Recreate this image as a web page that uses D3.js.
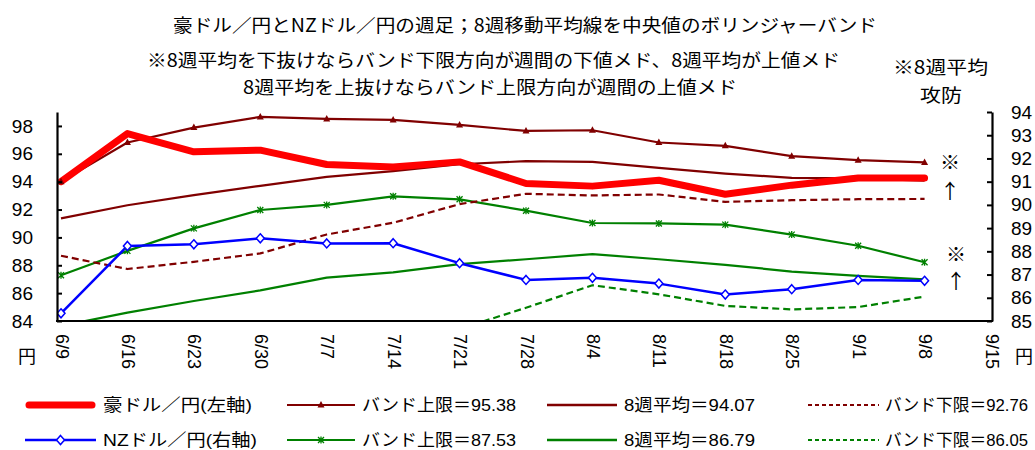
<!DOCTYPE html>
<html><head><meta charset="utf-8">
<script src="https://cdn.jsdelivr.net/npm/d3@7/dist/d3.min.js"></script>
<style>
body{margin:0;background:#fff;}
svg{display:block;}
.jp{font-family:"Noto Sans CJK JP","Noto Sans",sans-serif;}
.num{font-family:"Liberation Sans","Arial","Noto Sans CJK JP",sans-serif;}
</style></head>
<body>
<svg id="c" width="1035" height="450"></svg>
<script>
const categories = ["6/9","6/16","6/23","6/30","7/7","7/14","7/21","7/28","8/4","8/11","8/18","8/25","9/1","9/8","9/15"];
const leftTicks = [84,86,88,90,92,94,96,98];
const rightTicks = [85,86,87,88,89,90,91,92,93,94];

// AUD/JPY (left axis)
const audPrice = [94.0,97.45,96.14,96.26,95.23,95.06,95.42,93.87,93.68,94.1,93.1,93.75,94.27,94.27];
const audUpper = [94.0,96.81,97.88,98.65,98.5,98.43,98.07,97.64,97.69,96.81,96.57,95.83,95.54,95.38];
const audMean  = [91.36,92.31,93.03,93.7,94.35,94.75,95.25,95.47,95.42,94.99,94.58,94.27,94.23,94.07];
const audLower = [88.68,87.73,88.25,88.85,90.21,91.05,92.39,93.13,93.01,93.08,92.55,92.67,92.74,92.76];

// NZD/JPY (right axis)
const nzdPrice = [85.33,88.23,88.3,88.56,88.34,88.35,87.49,86.77,86.86,86.61,86.14,86.37,86.77,86.73];
const nzdUpper = [86.97,88.02,88.99,89.78,90.0,90.37,90.24,89.75,89.22,89.2,89.15,88.72,88.24,87.53];
const nzdMean  = [84.79,85.36,85.86,86.32,86.87,87.09,87.45,87.66,87.88,87.66,87.42,87.13,86.94,86.79];
const nzdLower = [82.6,82.7,82.73,82.86,83.74,83.81,84.66,85.57,86.54,86.15,85.65,85.5,85.6,86.05];

const titleLines = [
  "豪ドル／円とNZドル／円の週足；8週移動平均線を中央値のボリンジャーバンド",
  "※8週平均を下抜けならバンド下限方向が週間の下値メド、8週平均が上値メド",
  "8週平均を上抜けならバンド上限方向が週間の上値メド"
];
const legendLabels = [
  "豪ドル／円(左軸)","バンド上限＝95.38","8週平均＝94.07","バンド下限＝92.76",
  "NZドル／円(右軸)","バンド上限＝87.53","8週平均＝86.79","バンド下限＝86.05"
];

const svg = d3.select("#c");
const X0 = 57, X1 = 992, YT = 112, YB = 321;
const x = d3.scaleLinear().domain([0,14]).range([61,991]);
const yL = d3.scaleLinear().domain([84,99]).range([YB,YT]);
const yR = d3.scaleLinear().domain([85,94]).range([YB,YT]);

const DR = "#800000", RED = "#ff0000", GR = "#008000", BL = "#0000ff";

// Titles
const tl = [
  {x:173,y:32,w:704},
  {x:147,y:67,w:693},
  {x:243,y:94,w:494}
];
titleLines.forEach((t,i)=>{
  svg.append("text").attr("class","jp").attr("x",tl[i].x).attr("y",tl[i].y)
    .attr("font-size",18).attr("textLength",tl[i].w).attr("lengthAdjust","spacingAndGlyphs")
    .attr("fill","#000").text(t);
});
svg.append("text").attr("class","jp").attr("x",893).attr("y",74).attr("font-size",18)
  .attr("textLength",95).attr("lengthAdjust","spacingAndGlyphs").text("※8週平均");
svg.append("text").attr("class","jp").attr("x",920).attr("y",102).attr("font-size",18)
  .attr("textLength",42).attr("lengthAdjust","spacingAndGlyphs").text("攻防");

// clip
svg.append("clipPath").attr("id","clip").append("rect")
  .attr("x",X0).attr("y",YT).attr("width",X1-X0).attr("height",YB-YT+1);
const plot = svg.append("g").attr("clip-path","url(#clip)");

function line(data, ys){
  return d3.line().x((d,i)=>x(i)).y(d=>ys(d))(data);
}
function addLine(data, ys, color, w, dash){
  plot.append("path").attr("d",line(data,ys)).attr("fill","none")
    .attr("stroke",color).attr("stroke-width",w)
    .attr("stroke-linejoin","round")
    .attr("stroke-dasharray",dash||null);
}
// NZD lines
addLine(nzdLower, yR, GR, 2.2, "7,4");
addLine(nzdMean, yR, GR, 2.2);
addLine(nzdUpper, yR, GR, 2.2);
// AUD lines
addLine(audLower, yL, DR, 2.2, "7,4");
addLine(audMean, yL, DR, 2.2);
addLine(audUpper, yL, DR, 2.2);
// price lines
plot.append("path").attr("d",line(audPrice,yL)).attr("fill","none")
  .attr("stroke",RED).attr("stroke-width",7).attr("stroke-linejoin","round").attr("stroke-linecap","round");
addLine(nzdPrice, yR, BL, 2.5);

// markers
function tri(g,cx,cy){ g.append("path").attr("d",`M${cx},${cy-4}L${cx+3.5},${cy+2.5}L${cx-3.5},${cy+2.5}Z`).attr("fill",DR); }
function star(g,cx,cy){ g.append("path").attr("d",`M${cx-3},${cy-3}L${cx+3},${cy+3}M${cx-3},${cy+3}L${cx+3},${cy-3}M${cx},${cy-3.5}L${cx},${cy+3.5}`).attr("stroke",GR).attr("stroke-width",1.3).attr("fill","none"); }
function dia(g,cx,cy){ g.append("path").attr("d",`M${cx},${cy-4.5}L${cx+4},${cy}L${cx},${cy+4.5}L${cx-4},${cy}Z`).attr("fill","#fff").attr("stroke",BL).attr("stroke-width",1.5); }
audUpper.forEach((d,i)=>tri(plot,x(i),yL(d)));
nzdUpper.forEach((d,i)=>star(plot,x(i),yR(d)));
nzdPrice.forEach((d,i)=>dia(plot,x(i),yR(d)));

// axes
const gL = svg.append("g").attr("transform",`translate(${X0},0)`)
  .call(d3.axisLeft(yL).tickValues(leftTicks).tickSizeInner(-5).tickSizeOuter(0).tickPadding(24));
const gR = svg.append("g").attr("transform",`translate(${X1},0)`)
  .call(d3.axisRight(yR).tickValues(rightTicks).tickSizeInner(-5).tickSizeOuter(0).tickPadding(19));
[gL,gR].forEach(g=>{
  g.select(".domain").attr("stroke","#000").attr("stroke-width",2.2);
  g.selectAll(".tick line").attr("stroke","#000").attr("stroke-width",2);
  g.selectAll(".tick text").attr("class","num").attr("font-size",19).attr("fill","#000");
});
// x axis
const gX = svg.append("g").attr("transform",`translate(0,${YB})`)
  .call(d3.axisBottom(x).tickValues(d3.range(15)).tickFormat(i=>categories[i]).tickSize(0));
gX.select(".domain").attr("d",`M${X0-1},0H${X1+1}`).attr("stroke","#000").attr("stroke-width",2.2);
gX.selectAll(".tick text").attr("class","num").attr("font-size",18).attr("fill","#000")
  .attr("text-anchor","start").attr("dominant-baseline","central")
  .attr("transform","translate(0,13) rotate(90)").attr("x",0).attr("y",0).attr("dy",null);

svg.append("text").attr("class","jp").attr("x",27).attr("y",363).attr("text-anchor","middle").attr("font-size",18).text("円");
svg.append("text").attr("class","jp").attr("x",1024).attr("y",363).attr("text-anchor","middle").attr("font-size",18).text("円");

// annotations
[[950,170,"※"],[950,199,"↑"],[956,262,"※"],[956,289,"↑"]].forEach(a=>{
  svg.append("text").attr("class","jp").attr("x",a[0]).attr("y",a[1]).attr("text-anchor","middle")
    .attr("font-size",20).text(a[2]);
});

// legend
const lx = [[25,96,103],[287,355,362],[547,617,624],[808,879,885]];
const lw = [[149,154,131,143],[154,154,131,143]];
const rows = [405,440];
const legendStyles = [
  {c:RED,w:7,cap:"round"},{c:DR,w:2.2,m:"tri"},{c:DR,w:2.5},{c:DR,w:2,dash:"4,3"},
  {c:BL,w:2.5,m:"dia"},{c:GR,w:2.2,m:"star"},{c:GR,w:2.5},{c:GR,w:2,dash:"4,3"}
];
legendLabels.forEach((lab,k)=>{
  const r = Math.floor(k/4), c = k%4, s = legendStyles[k];
  const y = rows[r], p = lx[c];
  svg.append("line").attr("x1",p[0]+(s.cap?4:0)).attr("x2",p[1]-(s.cap?4:0)).attr("y1",y).attr("y2",y)
    .attr("stroke",s.c).attr("stroke-width",s.w).attr("stroke-linecap",s.cap||"butt")
    .attr("stroke-dasharray",s.dash||null);
  const mx=(p[0]+p[1])/2;
  if(s.m==="tri") tri(svg,mx,y);
  if(s.m==="star") star(svg,mx,y);
  if(s.m==="dia") dia(svg,mx,y);
  svg.append("text").attr("class","num").attr("x",p[2]).attr("y",y).attr("dy","0.35em")
    .attr("font-size",17).attr("fill","#000")
    .attr("textLength",lw[r][c]).attr("lengthAdjust","spacingAndGlyphs").text(lab);
});
</script>
</body></html>
